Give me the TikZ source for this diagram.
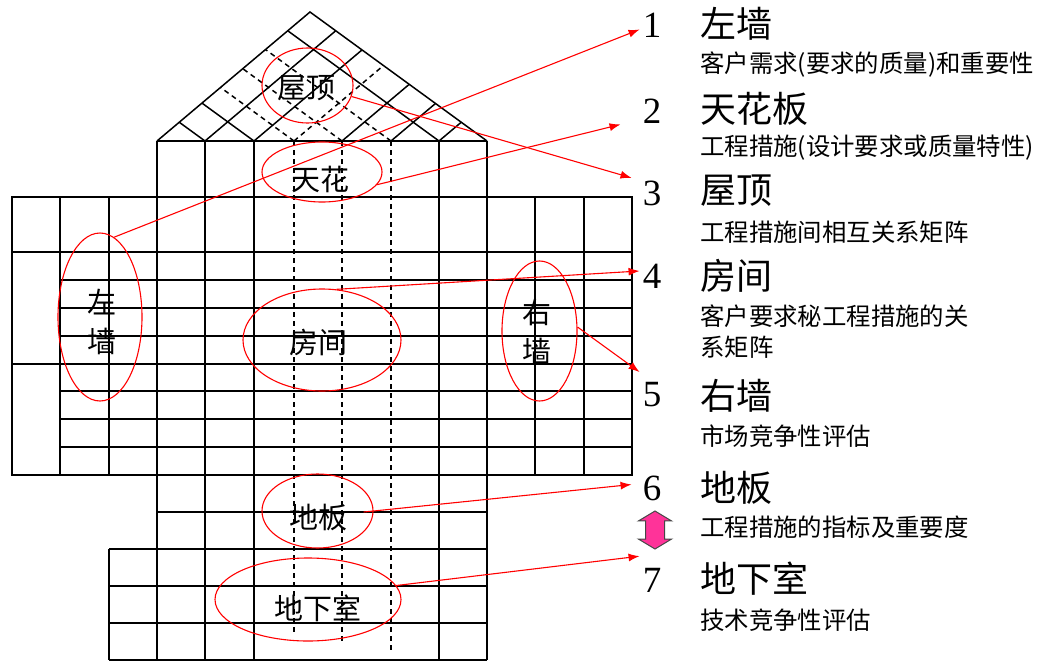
\documentclass[tikz,border=0pt]{standalone}
\usepackage{fontspec}
\setmainfont{Liberation Serif}
\newfontfamily\cjk{Noto Sans CJK SC}
\usetikzlibrary{arrows.meta, shapes.geometric, shapes.arrows, calc}
\definecolor{ArrowPink}{RGB}{255,51,153}
\definecolor{ArrowEdge}{RGB}{70,70,70}
\tikzset{
  >=latex,
  % griglia della casa
  cell line/.style={line width=1.5pt, black},
  cell dash/.style={cell line, dash pattern=on 5pt off 4pt},
  % anelli rossi e frecce
  ring/.style={ellipse, draw=red, line width=1.1pt, inner sep=0pt},
  link/.style={-{Latex[length=11pt,width=8pt]}, red, line width=1.1pt},
  % testi
  lbl/.style={font=\cjk\fontsize{29}{39}\selectfont, align=center, inner sep=0pt},
  num/.style={font=\fontsize{37}{40}\selectfont, inner sep=3pt},
  ttl/.style={font=\cjk\fontsize{36}{40}\selectfont, anchor=west, inner sep=0pt},
  sub/.style={font=\cjk\fontsize{24.4}{31}\selectfont, anchor=west, inner sep=0pt, align=left}
}

\begin{document}
\begin{tikzpicture}[x=1pt,y=-1pt]
  \useasboundingbox (0,0) rectangle (1045,672);
  % corpo centrale con le pareti
  \draw[cell line] (12,197) rectangle (632,475);
  \foreach \y in {252,364} \draw[cell line] (12,\y) -- (632,\y);
  \foreach \y in {280,308,336,391,419,447} \draw[cell line] (60,\y) -- (632,\y);
  \foreach \x in {60,109,535,584} \draw[cell line] (\x,197) -- (\x,475);
  % colonne della casa, soffitto, pavimento e cantina
  \draw[cell line] (157,141) -- (487,141);
  \foreach \x in {157,205,254,439,487} \draw[cell line] (\x,141) -- (\x,660);
  \draw[cell line] (157,512) -- (487,512);
  \foreach \y in {549,586,623,660} \draw[cell line] (109,\y) -- (487,\y);
  \draw[cell line] (109,549) -- (109,660);
  \draw[cell dash] (294,141) -- (294,632);
  \draw[cell dash] (342,141) -- (342,642);
  \draw[cell dash] (391,141) -- (391,650);
  % tetto
  \coordinate (rL) at (157,141);
  \coordinate (rR) at (487,141);
  \coordinate (rA) at (310,12);
  \draw[cell line] (rL) -- (rA) -- (rR);
  \foreach \x/\sa/\sb in {205/cell line/cell line,254/cell line/cell line,294/cell dash/cell dash,
                          342/cell dash/cell line,391/cell dash/cell line,439/cell line/cell line} {
    \pgfmathsetmacro\pa{(\x-157)/330}
    \pgfmathsetmacro\pb{1-\pa}
    \draw[\sa] (\x,141) -- ($(rL)!\pa!(rA)$);
    \draw[\sb] (\x,141) -- ($(rR)!\pb!(rA)$);
  }
  % etichette nella casa
  \node[lbl] (lRoof) at (306,88) {屋顶};
  \node[lbl] (lCeil) at (320,179) {天花};
  \node[lbl] (lLWall) at (102,322) {左\\墙};
  \node[lbl] (lRoom) at (318,342) {房间};
  \node[lbl] (lRWall) at (537,332) {右\\墙};
  \node[lbl] (lFloor) at (318,518) {地板};
  \node[lbl] (lBase) at (318,608) {地下室};
  % anelli
  \node[ring, minimum width=91, minimum height=75] (rRoof) at (307.5,85.5) {};
  \node[ring, minimum width=120, minimum height=60] (rCeil) at (322,172) {};
  \node[ring, minimum width=84, minimum height=168] (rLWall) at (100,317) {};
  \node[ring, minimum width=158, minimum height=102] (rRoom) at (322,340) {};
  \node[ring, minimum width=75, minimum height=140] (rRWall) at (539.5,331) {};
  \node[ring, minimum width=111, minimum height=74] (rFloor) at (317.5,511) {};
  \node[ring, minimum width=186, minimum height=83] (rBase) at (308,599.5) {};
  % legenda a destra
  \node[num] (n1) at (652,25.5) {1};
  \node[ttl] (t1) at (700,24) {左墙};
  \node[sub] (s1) at (700,65) {客户需求(要求的质量)和重要性};
  \node[num] (n2) at (652,111) {2};
  \node[ttl] (t2) at (700,109) {天花板};
  \node[sub] (s2) at (700,148) {工程措施(设计要求或质量特性)};
  \node[num] (n3) at (652,193.5) {3};
  \node[ttl] (t3) at (700,191) {屋顶};
  \node[sub] (s3) at (700,232) {工程措施间相互关系矩阵};
  \node[num] (n4) at (652,276) {4};
  \node[ttl] (t4) at (700,276) {房间};
  \node[sub] (s4) at (700,331.5) {客户要求秘工程措施的关\\系矩阵};
  \node[num] (n5) at (652,394.5) {5};
  \node[ttl] (t5) at (700,396) {右墙};
  \node[sub] (s5) at (700,436) {市场竞争性评估};
  \node[num] (n6) at (652,488.5) {6};
  \node[ttl] (t6) at (700,488) {地板};
  \node[sub] (s6) at (700,527) {工程措施的指标及重要度};
  \node[num] (n7) at (652,580.5) {7};
  \node[ttl] (t7) at (700,579) {地下室};
  \node[sub] (s7) at (700,620) {技术竞争性评估};
  \node[double arrow, rotate=90, draw=ArrowEdge, fill=ArrowPink, line width=1pt, inner sep=9pt,
        minimum height=38pt, double arrow head extend=7pt, double arrow tip angle=118] (dArr) at (655,530) {};
  % frecce
  \draw[link] (rLWall.80) -- ([yshift=-4pt]n1.west);
  \draw[link] (rCeil.-13) -- ([xshift=-19pt,yshift=2pt]n2.south west);
  \draw[link] (rRoof.-14) -- ([xshift=-8pt]n3.north west);
  \draw[link] (rRoom.74) -- ([yshift=5pt]n4.west);
  \draw[link] (rRWall.6) -- ([yshift=7pt]n5.north west);
  \draw[link, shorten <=-10pt] (rFloor.east) -- ([xshift=-8pt,yshift=4pt]n6.west);
  \draw[link] (rBase.9) -- ([yshift=9pt]n7.north west);
\end{tikzpicture}
\end{document}
